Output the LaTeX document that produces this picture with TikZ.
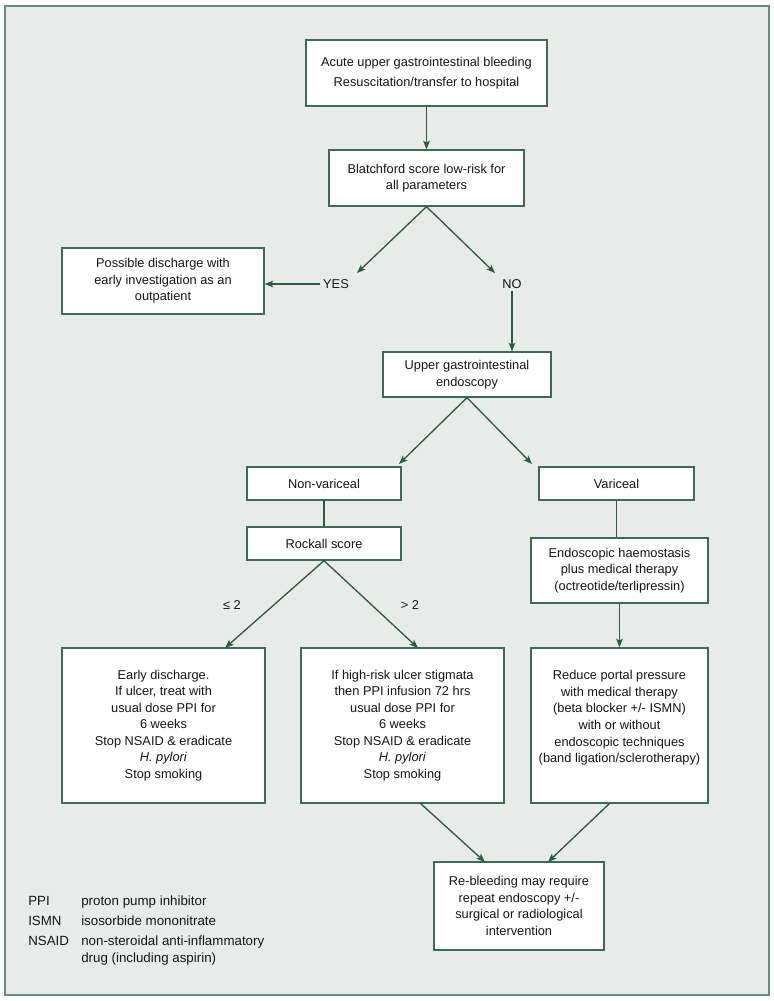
\documentclass[tikz,border=0pt]{standalone}
\usepackage{fontspec}
\setmainfont{Liberation Sans}
\usetikzlibrary{arrows.meta}
\definecolor{bgc}{HTML}{E8EBE9}
\definecolor{framec}{HTML}{6A8C7C}
\definecolor{boxc}{HTML}{3E6A56}
\definecolor{arrc}{HTML}{2C5B45}
\definecolor{txtc}{HTML}{161616}
\begin{document}
\begin{tikzpicture}[x=0.75pt,y=-0.75pt,
  box/.style={draw=boxc, line width=1pt, fill=white, align=center, inner sep=0pt,
    text=txtc, font=\fontsize{9.6}{12.4}\selectfont},
  sz/.style 2 args={minimum width=#1*0.75pt, minimum height=#2*0.75pt},
  lbl/.style={text=txtc, font=\fontsize{9.6}{12}\selectfont, inner sep=2pt},
  leg/.style={text=txtc, font=\fontsize{10}{12}\selectfont, inner sep=0pt, anchor=base west},
  arrowc/.style={draw=arrc, line width=1pt, -{Stealth[length=6.5pt,width=5pt,inset=1.5pt]}},
  conn/.style={draw=arrc, line width=1pt}]

\useasboundingbox (0,0) rectangle (774,1001);
\draw[framec, line width=1.6pt, fill=bgc] (5,6) rectangle (769,995);

% boxes
\node[box, sz={241}{66}] (top) at (426.5,73) {Acute upper gastrointestinal bleeding\\[3pt]Resuscitation/transfer to hospital};
\node[box, sz={195}{56}] (blatch) at (426.5,178) {Blatchford score low-risk for\\all parameters};
\node[box, sz={202}{66}] (disch) at (163,281) {Possible discharge with\\early investigation as an\\outpatient};
\node[lbl] (yes) at (336,284) {YES};
\node[lbl] (no) at (512,284) {NO};
\node[box, sz={168}{45}] (endo) at (467,374.5) {Upper gastrointestinal\\endoscopy};
\node[box, sz={154}{33}] (nonvar) at (324,483.5) {Non-variceal};
\node[box, sz={155}{33}] (var) at (616.5,483.5) {Variceal};
\node[box, sz={154}{33}] (rock) at (324,543.5) {Rockall score};
\node[box, sz={177}{65}] (haemo) at (619.5,570.5) {Endoscopic haemostasis\\plus medical therapy\\(octreotide/terlipressin)};
\node[box, sz={203}{155}] (early) at (163.5,725.5) {Early discharge.\\If ulcer, treat with\\usual dose PPI for\\6 weeks\\Stop NSAID \& eradicate\\\textit{H. pylori}\\Stop smoking};
\node[box, sz={203}{155}] (high) at (402.5,725.5) {If high-risk ulcer stigmata\\then PPI infusion 72 hrs\\usual dose PPI for\\6 weeks\\Stop NSAID \& eradicate\\\textit{H. pylori}\\Stop smoking};
\node[box, sz={177}{155}] (reduce) at (619.5,725.5) {Reduce portal pressure\\with medical therapy\\(beta blocker +/- ISMN)\\with or without\\endoscopic techniques\\(band ligation/sclerotherapy)\\[1pt]\mbox{}};
\node[box, sz={170}{88}] (rebleed) at (519,906) {Re-bleeding may require\\repeat endoscopy +/-\\surgical or radiological\\intervention};
\node[lbl] (le) at (232,605) {≤ 2};
\node[lbl] (gt) at (410,605) {> 2};

% connector end points
\coordinate (yesend) at (357,273);
\coordinate (noend) at (495,273);
\coordinate (nvend) at (399,464);
\coordinate (vend) at (532,464);
\coordinate (earlyend) at (225,648);
\coordinate (highend) at (418,648);
\coordinate (hout) at (420,803);
\coordinate (rout) at (610,803);
\coordinate (rb1) at (485,862);
\coordinate (rb2) at (548,862);

% connectors
\draw[arrowc] (top.south) -- (blatch.north);
\draw[arrowc] (blatch.south) -- (yesend);
\draw[arrowc] (blatch.south) -- (noend);
\draw[arrowc] (yes.west) -- (yes.west -| disch.east);
\draw[arrowc] (no.south) -- (no.south |- endo.north);
\draw[arrowc] (endo.south) -- (nvend);
\draw[arrowc] (endo.south) -- (vend);
\draw[conn] (nonvar.south) -- (rock.north);
\draw[conn] (var.south) -- (var.south |- haemo.north);
\draw[arrowc] (rock.south) -- (earlyend);
\draw[arrowc] (rock.south) -- (highend);
\draw[arrowc] (haemo.south) -- (reduce.north);
\draw[arrowc] (hout) -- (rb1);
\draw[arrowc] (rout) -- (rb2);

% legend
\node[leg] (l1a) at (28,905) {PPI};
\node[leg] (l1b) at (81,905) {proton pump inhibitor};
\node[leg] (l2a) at (28,925) {ISMN};
\node[leg] (l2b) at (81,925) {isosorbide mononitrate};
\node[leg] (l3a) at (28,945) {NSAID};
\node[leg] (l3b) at (81,945) {non-steroidal anti-inflammatory};
\node[leg] (l3c) at (81,962) {drug (including aspirin)};
\end{tikzpicture}
\end{document}
